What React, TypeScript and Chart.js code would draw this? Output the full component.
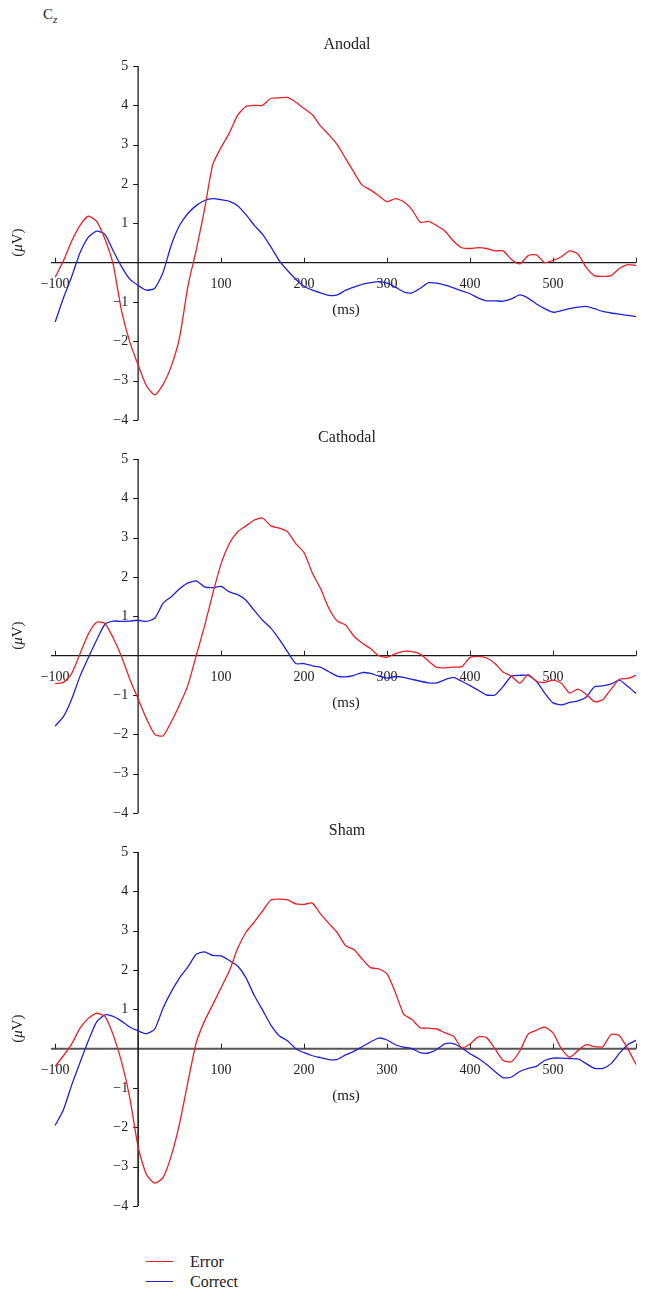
import React, { useEffect, useRef } from "react";
import { Chart, registerables } from "chart.js";

Chart.register(...registerables);

// ---------- data ----------
const TIME_MS = [
  -100, -90, -80, -70, -60, -50, -40, -30, -20, -10,
  0, 10, 20, 30, 40, 50, 60, 70, 80, 90,
  100, 110, 120, 130, 140, 150, 160, 170, 180, 190,
  200, 210, 220, 230, 240, 250, 260, 270, 280, 290,
  300, 310, 320, 330, 340, 350, 360, 370, 380, 390,
  400, 410, 420, 430, 440, 450, 460, 470, 480, 490,
  500, 510, 520, 530, 540, 550, 560, 570, 580, 590,
  600,
];

const ANODAL_ERROR = [
  -0.37, 0.05, 0.55, 0.95, 1.18, 1.05, 0.6, -0.05, -1.22, -2.02,
  -2.6, -3.13, -3.36, -3.1, -2.63, -1.9, -0.6, 0.32, 1.35, 2.5,
  2.93, 3.3, 3.75, 3.97, 4.0, 4.0, 4.18, 4.19, 4.2, 4.08,
  3.92, 3.76, 3.47, 3.25, 3.0, 2.65, 2.3, 1.97, 1.85, 1.7,
  1.55, 1.63, 1.55, 1.35, 1.03, 1.05, 0.94, 0.8, 0.55, 0.38,
  0.36, 0.38, 0.36, 0.3, 0.3, 0.08, -0.03, 0.18, 0.2, 0.0,
  0.06, 0.15, 0.3, 0.22, -0.12, -0.33, -0.35, -0.33, -0.15, -0.05,
  -0.07,
];
const ANODAL_CORRECT = [
  -1.51, -0.9, -0.35, 0.25, 0.65, 0.8, 0.72, 0.3, -0.1, -0.42,
  -0.58, -0.7, -0.65, -0.25, 0.45, 0.95, 1.25, 1.45, 1.58, 1.63,
  1.6, 1.56, 1.45, 1.22, 0.95, 0.72, 0.4, 0.05, -0.2, -0.42,
  -0.6, -0.7, -0.77, -0.83, -0.82, -0.7, -0.62, -0.55, -0.51, -0.48,
  -0.52, -0.62, -0.74, -0.77, -0.65, -0.51, -0.52, -0.57, -0.64, -0.72,
  -0.79, -0.9, -0.97, -0.97, -0.98, -0.92, -0.82, -0.9, -1.05, -1.17,
  -1.26, -1.22, -1.17, -1.13, -1.11, -1.17, -1.24, -1.28, -1.31, -1.34,
  -1.37,
];

const CATHODAL_ERROR = [
  -0.71, -0.68, -0.45, 0.05, 0.55, 0.85, 0.82, 0.45, -0.02, -0.6,
  -1.1, -1.6, -2.0, -2.04, -1.68, -1.25, -0.75, 0.0, 0.75, 1.58,
  2.34, 2.85, 3.15, 3.3, 3.45, 3.5, 3.3, 3.24, 3.15, 2.85,
  2.62, 2.1, 1.7, 1.2, 0.88, 0.78, 0.5, 0.32, 0.18, 0.0,
  -0.04, 0.05, 0.11, 0.1, 0.04, -0.14, -0.3, -0.31, -0.29, -0.28,
  -0.05, -0.02, -0.06, -0.2, -0.42, -0.52, -0.7, -0.48, -0.65, -0.68,
  -0.62, -0.7, -0.95, -0.85, -0.98, -1.17, -1.12, -0.85, -0.6, -0.58,
  -0.5,
];
const CATHODAL_CORRECT = [
  -1.79, -1.55, -1.1, -0.52, -0.05, 0.4, 0.8, 0.88, 0.87, 0.88,
  0.9, 0.87, 0.95, 1.33, 1.5, 1.7, 1.85, 1.9, 1.75, 1.73,
  1.76, 1.62, 1.55, 1.41, 1.15, 0.9, 0.7, 0.42, 0.1, -0.2,
  -0.2, -0.26, -0.3, -0.41, -0.52, -0.54, -0.5, -0.43, -0.45, -0.52,
  -0.57, -0.53, -0.55, -0.6, -0.65, -0.69, -0.69, -0.61, -0.55, -0.65,
  -0.76, -0.88, -1.0, -1.0, -0.78, -0.52, -0.5, -0.5, -0.65, -0.95,
  -1.2, -1.25, -1.19, -1.15, -1.05, -0.79, -0.77, -0.72, -0.62, -0.78,
  -0.96,
];

const SHAM_ERROR = [
  -0.45, -0.18, 0.12, 0.52, 0.77, 0.9, 0.82, 0.35, -0.33, -1.25,
  -2.5, -3.2, -3.42, -3.28, -2.72, -1.9, -0.85, 0.15, 0.7, 1.12,
  1.55, 1.98, 2.55, 2.96, 3.22, 3.5, 3.78, 3.8, 3.78, 3.68,
  3.67, 3.7, 3.42, 3.18, 2.95, 2.62, 2.52, 2.28, 2.06, 2.03,
  1.9, 1.43, 0.88, 0.74, 0.53, 0.52, 0.5, 0.4, 0.32, 0.02,
  0.12, 0.3, 0.28, 0.0, -0.3, -0.33, -0.06, 0.37, 0.47, 0.55,
  0.4, 0.0, -0.22, -0.05, 0.1, 0.05, 0.05, 0.36, 0.33, 0.0,
  -0.4,
];
const SHAM_CORRECT = [
  -1.95, -1.55, -0.92, -0.35, 0.2, 0.68, 0.86, 0.82, 0.7, 0.55,
  0.45, 0.38, 0.5, 1.03, 1.45, 1.8, 2.08, 2.4, 2.46, 2.37,
  2.36, 2.24, 2.1, 1.8, 1.35, 0.98, 0.6, 0.33, 0.2, 0.0,
  -0.1, -0.18, -0.23, -0.28, -0.27, -0.16, -0.07, 0.05, 0.17, 0.27,
  0.22, 0.1, 0.04, 0.0, -0.1, -0.11, -0.02, 0.13, 0.13, 0.02,
  -0.13, -0.25, -0.4, -0.58, -0.74, -0.72, -0.58, -0.5, -0.45, -0.3,
  -0.24, -0.24, -0.25, -0.26, -0.38, -0.5, -0.5, -0.38, -0.12, 0.1,
  0.21,
];

const PANEL_TITLES = ["Anodal", "Cathodal", "Sham"];
const SERIES_NAMES = ["Error", "Correct"];
const X_TICK_LABELS = [-100, 100, 200, 300, 400, 500];
const X_TICK_MARKS = [-100, 100, 200, 300, 400, 500, 600];
const Y_TICK_VALUES = [5, 4, 3, 2, 1, -1, -2, -3, -4];
const X_AXIS_TITLE = "(ms)";
const ELECTRODE = "C";
const ELECTRODE_SUB = "z";

// ---------- styles ----------
const RED = "#ec1f26";
const BLUE = "#1f22d8";
const SERIF = '"Liberation Serif", "DejaVu Serif", serif';
const CANVAS_W = 647;
const CANVAS_H = 394;

const fmt = (v: number) => (v < 0 ? "\u2212" + Math.abs(v) : String(v));

const erpAxesPlugin = {
  id: "erpAxes",
  beforeDatasetsDraw(chart: any, _args: any, opts: any) {
    const { ctx, chartArea, scales } = chart;
    const xs = scales.x;
    const ys = scales.y;
    const x0 = xs.getPixelForValue(0);
    const y0 = ys.getPixelForValue(0);
    ctx.save();
    // x axis
    ctx.strokeStyle = opts.xColor;
    ctx.lineWidth = opts.xWidth;
    ctx.beginPath();
    ctx.moveTo(chartArea.left, y0);
    ctx.lineTo(chartArea.right, y0);
    ctx.stroke();
    ctx.lineWidth = 1;
    ctx.strokeStyle = "#222";
    ctx.beginPath();
    for (const v of X_TICK_MARKS) {
      const px = Math.round(xs.getPixelForValue(v)) + 0.5;
      ctx.moveTo(px, y0);
      ctx.lineTo(px, y0 - 5);
    }
    ctx.stroke();
    // y axis
    ctx.strokeStyle = "#1a1a1a";
    ctx.lineWidth = opts.yWidth;
    ctx.beginPath();
    ctx.moveTo(x0, ys.getPixelForValue(5));
    ctx.lineTo(x0, ys.getPixelForValue(-4));
    ctx.stroke();
    ctx.lineWidth = 1;
    ctx.beginPath();
    for (const v of Y_TICK_VALUES) {
      const py = Math.round(ys.getPixelForValue(v)) + 0.5;
      ctx.moveTo(x0, py);
      ctx.lineTo(x0 - 5, py);
    }
    ctx.stroke();

    // tick labels
    ctx.fillStyle = "#222";
    ctx.font = `14px ${SERIF}`;
    ctx.textBaseline = "middle";
    ctx.textAlign = "center";
    for (const v of X_TICK_LABELS) {
      ctx.fillText(fmt(v), xs.getPixelForValue(v), y0 + 22);
    }
    ctx.textAlign = "right";
    for (const v of Y_TICK_VALUES) {
      ctx.fillText(fmt(v), x0 - 10, ys.getPixelForValue(v));
    }

    // title
    ctx.font = `16px ${SERIF}`;
    ctx.textAlign = "center";
    ctx.fillText(opts.title, 347, 14);

    // x axis title
    ctx.font = `15px ${SERIF}`;
    ctx.fillText(X_AXIS_TITLE, 346, y0 + 47);

    // y axis title (µV) rotated with italic mu
    ctx.translate(18, y0 - 20);
    ctx.rotate(-Math.PI / 2);
    const parts = [
      { t: "(", f: `15px ${SERIF}` },
      { t: "\u03bc", f: `italic 15px ${SERIF}` },
      { t: "V)", f: `15px ${SERIF}` },
    ];
    let total = 0;
    for (const p of parts) {
      ctx.font = p.f;
      total += ctx.measureText(p.t).width;
    }
    let cx = -total / 2;
    ctx.textAlign = "left";
    for (const p of parts) {
      ctx.font = p.f;
      ctx.fillText(p.t, cx, 0);
      cx += ctx.measureText(p.t).width;
    }
    ctx.restore();
  },
};

type PanelProps = {
  title: string;
  error: number[];
  correct: number[];
  top: number;
  xColor: string;
  xWidth: number;
  yWidth: number;
};

function Panel({ title, error, correct, top, xColor, xWidth, yWidth }: PanelProps) {
  const ref = useRef<HTMLCanvasElement | null>(null);
  useEffect(() => {
    if (!ref.current) return;
    const chart = new Chart(ref.current, {
      type: "line",
      data: {
        datasets: [
          {
            label: SERIES_NAMES[0],
            data: TIME_MS.map((t, i) => ({ x: t, y: error[i] })),
            borderColor: RED,
            borderWidth: 1.3,
            pointRadius: 0,
            tension: 0.2,
            fill: false,
          },
          {
            label: SERIES_NAMES[1],
            data: TIME_MS.map((t, i) => ({ x: t, y: correct[i] })),
            borderColor: BLUE,
            borderWidth: 1.3,
            pointRadius: 0,
            tension: 0.2,
            fill: false,
          },
        ],
      },
      options: {
        animation: false,
        responsive: false,
        maintainAspectRatio: false,
        devicePixelRatio: 1,
        layout: { padding: { left: 51, right: 11, top: 35, bottom: 5 } },
        scales: {
          x: { type: "linear", min: -105, max: 600, display: false },
          y: { type: "linear", min: -4, max: 5, display: false },
        },
        plugins: {
          legend: { display: false },
          tooltip: { enabled: false },
          erpAxes: { title, xColor, xWidth, yWidth },
        } as any,
      },
      plugins: [erpAxesPlugin],
    });
    return () => chart.destroy();
  }, [title, error, correct, xColor, xWidth, yWidth]);
  return (
    <canvas
      ref={ref}
      width={CANVAS_W}
      height={CANVAS_H}
      style={{ position: "absolute", left: 0, top, width: CANVAS_W, height: CANVAS_H }}
    />
  );
}

export default function App() {
  return (
    <div
      style={{
        position: "absolute",
        left: 0,
        top: 0,
        width: CANVAS_W,
        height: 1296,
        background: "#fff",
        overflow: "hidden",
        fontFamily: SERIF,
        color: "#222",
      }}
    >
      <div style={{ position: "absolute", left: 43, top: 5, fontSize: 15, lineHeight: "18px" }}>
        {ELECTRODE}
        <sub style={{ fontStyle: "italic", fontSize: 11 }}>{ELECTRODE_SUB}</sub>
      </div>
      <Panel title={PANEL_TITLES[0]} error={ANODAL_ERROR} correct={ANODAL_CORRECT} top={31} xColor="#1a1a1a" xWidth={1.2} yWidth={1.3} />
      <Panel title={PANEL_TITLES[1]} error={CATHODAL_ERROR} correct={CATHODAL_CORRECT} top={424} xColor="#1a1a1a" xWidth={1.2} yWidth={1.3} />
      <Panel title={PANEL_TITLES[2]} error={SHAM_ERROR} correct={SHAM_CORRECT} top={817} xColor="#555" xWidth={2} yWidth={1.6} />
      {/* legend */}
      <div style={{ position: "absolute", left: 146, top: 1261, width: 27, height: 1.3, background: RED }} />
      <div style={{ position: "absolute", left: 190, top: 1252, fontSize: 16, lineHeight: "20px" }}>{SERIES_NAMES[0]}</div>
      <div style={{ position: "absolute", left: 146, top: 1281, width: 27, height: 1.3, background: BLUE }} />
      <div style={{ position: "absolute", left: 190, top: 1272, fontSize: 16, lineHeight: "20px" }}>{SERIES_NAMES[1]}</div>
    </div>
  );
}
